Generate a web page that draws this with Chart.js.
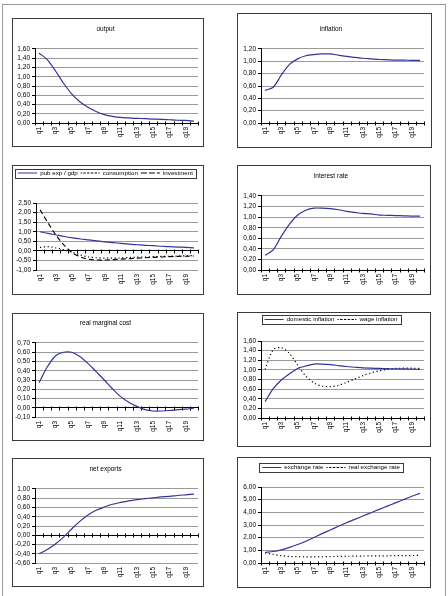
<!DOCTYPE html>
<html>
<head>
<meta charset="utf-8">
<script src="https://cdn.jsdelivr.net/npm/chart.js@4.4.1/dist/chart.umd.min.js"></script>
<style>
body { margin: 0; background: #fff; width: 448px; height: 596px; overflow: hidden; position: relative; }
#frame { position: absolute; left: 2px; top: 4px; width: 444px; height: 620px; border: 1px solid #9a9a9a; box-sizing: border-box; }
.panel { position: absolute; border: 1px solid #3a3a3a; box-sizing: border-box; background: #fff; }
.panel canvas { position: absolute; left: 0; top: 0; }
</style>
</head>
<body>
<div id="frame"></div>
<script>
// quarters on the x axis
const quarters = ['q1','q2','q3','q4','q5','q6','q7','q8','q9','q10','q11','q12','q13','q14','q15','q16','q17','q18','q19','q20'];

// series
const output = [1.51,1.37,1.13,0.86,0.63,0.46,0.34,0.25,0.18,0.145,0.12,0.11,0.10,0.095,0.085,0.08,0.07,0.06,0.055,0.04];
const inflation = [0.53,0.58,0.78,0.95,1.04,1.09,1.11,1.12,1.12,1.10,1.08,1.065,1.05,1.04,1.03,1.025,1.02,1.02,1.015,1.015];
const pubExp = [1.00,0.91,0.83,0.75,0.68,0.62,0.57,0.52,0.47,0.43,0.39,0.35,0.32,0.29,0.27,0.24,0.22,0.20,0.18,0.16];
const consumption = [0.18,0.22,0.15,0.05,-0.08,-0.22,-0.32,-0.36,-0.38,-0.38,-0.37,-0.35,-0.33,-0.32,-0.30,-0.29,-0.28,-0.27,-0.26,-0.25];
const investment = [2.15,1.45,0.80,0.28,-0.10,-0.32,-0.44,-0.48,-0.48,-0.46,-0.43,-0.41,-0.38,-0.36,-0.34,-0.32,-0.30,-0.29,-0.28,-0.27];
const interestRate = [0.28,0.38,0.64,0.87,1.04,1.13,1.17,1.17,1.16,1.14,1.11,1.09,1.07,1.06,1.04,1.035,1.03,1.025,1.02,1.02];
const marginalCost = [0.27,0.44,0.56,0.60,0.60,0.555,0.48,0.39,0.30,0.205,0.12,0.06,0.015,-0.02,-0.035,-0.035,-0.03,-0.02,-0.015,-0.005];
const domesticInfl = [0.34,0.61,0.79,0.92,1.03,1.08,1.12,1.12,1.11,1.09,1.07,1.055,1.04,1.035,1.03,1.025,1.02,1.02,1.015,1.01];
const wageInfl = [1.01,1.42,1.46,1.34,1.10,0.87,0.73,0.66,0.65,0.68,0.74,0.81,0.88,0.94,0.98,1.01,1.03,1.035,1.035,1.03];
const netExports = [-0.40,-0.31,-0.19,-0.04,0.135,0.30,0.44,0.54,0.61,0.67,0.71,0.745,0.77,0.79,0.81,0.83,0.84,0.86,0.875,0.89];
const exchangeRate = [0.84,0.91,1.04,1.23,1.46,1.72,2.01,2.32,2.61,2.90,3.18,3.44,3.71,3.97,4.23,4.49,4.75,5.01,5.27,5.50];
const realExchange = [0.80,0.68,0.58,0.52,0.50,0.49,0.49,0.50,0.51,0.52,0.53,0.54,0.55,0.56,0.56,0.57,0.58,0.58,0.59,0.60];

const FONT = "'Liberation Sans', Arial, sans-serif";
const blue = '#333399';

const solid = (label, data) => ({ label, data, borderColor: blue, backgroundColor: 'transparent', borderWidth: 1.2 });
const dotted = (label, data) => ({ label, data, borderColor: '#000', backgroundColor: 'transparent', borderWidth: 1.2, borderDash: [1.2, 2.6] });
const dashed = (label, data) => ({ label, data, borderColor: '#000', backgroundColor: 'transparent', borderWidth: 1.1, borderDash: [5, 3] });

function fmt(v) {
  if (Math.abs(v) < 1e-9) v = 0;
  return v.toFixed(2).replace('.', ',');
}

// small cross ticks on the zero line, at the category boundaries
const zeroTicks = {
  id: 'zeroTicks',
  beforeDatasetsDraw(chart) {
    const xs = chart.scales.x, ys = chart.scales.y;
    const n = chart.data.labels.length;
    const half = (xs.getPixelForValue(1) - xs.getPixelForValue(0)) / 2;
    const y0 = Math.round(ys.getPixelForValue(0)) + 0.5;
    const ctx = chart.ctx;
    ctx.save();
    ctx.strokeStyle = '#000';
    ctx.lineWidth = 1;
    ctx.beginPath();
    for (let i = 0; i <= n; i++) {
      const x = Math.round(i < n ? xs.getPixelForValue(i) - half : xs.getPixelForValue(n - 1) + half) + 0.5;
      ctx.moveTo(x, y0 - 2);
      ctx.lineTo(x, y0 + 2);
    }
    ctx.stroke();
    ctx.restore();
  }
};

// box round the legend, like excel does
const legendFrame = {
  id: 'legendFrame',
  afterDraw(chart) {
    const lg = chart.legend;
    if (!lg || !lg.options.display || !lg.legendHitBoxes || !lg.legendHitBoxes.length) return;
    const hb = lg.legendHitBoxes;
    const l = Math.min(...hb.map(h => h.left)) - 3;
    const r = Math.max(...hb.map(h => h.left + h.width)) + 3;
    const t = hb[0].top - 1;
    const b = hb[0].top + hb[0].height + 1.5;
    const ctx = chart.ctx;
    ctx.save();
    ctx.strokeStyle = '#3a3a3a';
    ctx.lineWidth = 1;
    ctx.strokeRect(Math.round(l) + 0.5, Math.round(t) + 0.5, Math.round(r - l), Math.round(b - t));
    ctx.restore();
  }
};

Chart.register(zeroTicks, legendFrame);

function makePanel(box, area, yMin, yMax, yStep, datasets, head) {
  const div = document.createElement('div');
  div.className = 'panel';
  div.style.left = box[0] + 'px';
  div.style.top = box[1] + 'px';
  div.style.width = (box[2] - box[0] + 1) + 'px';
  div.style.height = (box[3] - box[1] + 1) + 'px';
  const cx = box[0] + 1, cy = box[1] + 1, cw = box[2] - box[0] - 1, ch = box[3] - box[1] - 1;
  const canvas = document.createElement('canvas');
  canvas.width = cw;
  canvas.height = ch;
  div.appendChild(canvas);
  document.body.appendChild(div);

  const yW = area[0] - cx, padR = cx + cw - area[2], xH = cy + ch - area[3], topH = area[1] - cy;
  const font = { family: FONT, size: 6.5 };
  const legFont = { family: FONT, size: 6.2 };

  let title, legend, padTop = 0;
  if (head.title) {
    const pt = head.y - cy - 3.9;
    title = { display: true, text: head.title, color: '#000', font: { family: FONT, size: 6.5, weight: 'normal', lineHeight: 1.2 },
              padding: { top: pt, bottom: topH - pt - 7.8 } };
    legend = { display: false };
  } else {
    const lp = 3;
    padTop = Math.max(head.y - cy - lp - 3.1, 0);
    const legH = 6.2 + lp + 10;
    title = { display: true, text: '', weight: 500, font: { family: FONT, size: 1, lineHeight: 1 },
              padding: { top: 0, bottom: topH - padTop - legH - 1 } };
    legend = { display: true, position: 'top', align: 'center',
               labels: { boxWidth: 19, boxHeight: 0, padding: lp, color: '#000', font: legFont } };
  }

  new Chart(canvas, {
    type: 'line',
    data: { labels: quarters, datasets },
    options: {
      responsive: false,
      animation: false,
      layout: { padding: { left: 0, right: padR, top: padTop, bottom: 0 } },
      elements: { point: { radius: 0 }, line: { tension: 0.3 } },
      plugins: { title, legend, tooltip: { enabled: false } },
      scales: {
        x: {
          type: 'category',
          offset: true,
          grid: { display: false, drawTicks: false, offset: true },
          border: { display: false },
          ticks: {
            autoSkip: false, minRotation: 90, maxRotation: 90, padding: 4, color: '#000', font,
            callback(v, i) { return i % 2 === 0 ? this.getLabelForValue(v) : ''; }
          },
          afterFit(s) { s.height = xH; s.paddingLeft = 0; s.paddingRight = 0; }
        },
        y: {
          min: yMin, max: yMax,
          ticks: { stepSize: yStep, autoSkip: false, callback: fmt, color: '#000', font, padding: 2 },
          grid: {
            color: c => (c.tick && Math.abs(c.tick.value) < 1e-9) ? '#000' : '#9a9a9a',
            tickColor: '#000', tickLength: 3, lineWidth: 1
          },
          border: { color: '#000' },
          afterFit(s) { s.width = yW; s.paddingTop = 0; s.paddingBottom = 0; }
        }
      }
    }
  });
}

makePanel([12,18,203,146], [35,49,198,123], 0, 1.6, 0.2, [solid('output', output)], { title: 'output', y: 29 });
makePanel([237,13,431,147], [261,49,424,123], 0, 1.2, 0.2, [solid('inflation', inflation)], { title: 'inflation', y: 29 });
makePanel([12,165,203,294], [36,203,198,270], -1, 2.5, 0.5,
  [solid('pub exp / gdp', pubExp), dotted('consumption', consumption), dashed('investment', investment)], { y: 173 });
makePanel([237,165,430,294], [261,196,424,270], 0, 1.4, 0.2, [solid('interest rate', interestRate)], { title: 'interest rate', y: 176 });
makePanel([12,313,203,440], [35,343,198,417], -0.1, 0.7, 0.1, [solid('real marginal cost', marginalCost)], { title: 'real marginal cost', y: 323 });
makePanel([237,312,430,446], [261,341,424,418], 0, 1.6, 0.2,
  [solid('domestic inflation', domesticInfl), dotted('wage inflation', wageInfl)], { y: 319.5 });
makePanel([12,458,203,586], [35,489,198,563], -0.6, 1.0, 0.2, [solid('net exports', netExports)], { title: 'net exports', y: 469 });
makePanel([237,457,430,587], [261,487,424,563], 0, 6, 1,
  [solid('exchange rate', exchangeRate), dotted('real exchange rate', realExchange)], { y: 467.5 });
</script>
</body>
</html>
